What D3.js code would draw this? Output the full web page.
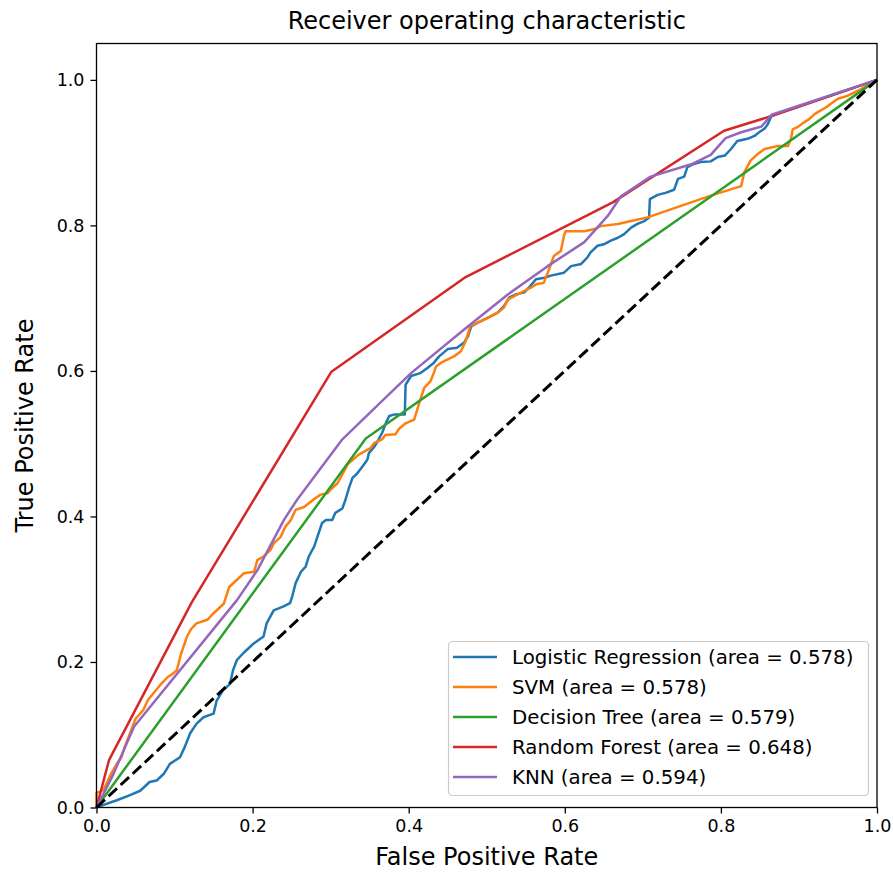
<!DOCTYPE html>
<html>
<head>
<meta charset="utf-8">
<script src="https://cdn.jsdelivr.net/npm/d3@7"></script>
<style>
  body { margin: 0; background: #fff; }
  svg { display: block; }
  text { font-family: "DejaVu Sans", sans-serif; fill: #000; }
</style>
</head>
<body>
<svg id="chart" width="893" height="872"></svg>
<script>
// ROC curves, one [false positive rate, true positive rate] list per model
const rocLogistic = [
  [0,0],[0.010,0.004],[0.026,0.010],[0.043,0.017],[0.056,0.023],[0.068,0.035],[0.077,0.037],
  [0.086,0.046],[0.094,0.060],[0.107,0.069],[0.113,0.083],[0.120,0.102],[0.128,0.115],[0.137,0.124],
  [0.150,0.129],[0.154,0.147],[0.162,0.161],[0.171,0.170],[0.175,0.189],[0.180,0.203],[0.188,0.212],
  [0.201,0.225],[0.214,0.235],[0.218,0.253],[0.227,0.271],[0.239,0.276],[0.248,0.281],[0.251,0.291],
  [0.255,0.308],[0.262,0.324],[0.268,0.331],[0.272,0.345],[0.279,0.359],[0.283,0.372],[0.289,0.391],
  [0.294,0.395],[0.302,0.395],[0.306,0.405],[0.315,0.411],[0.319,0.423],[0.324,0.441],[0.328,0.453],
  [0.334,0.459],[0.341,0.469],[0.347,0.478],[0.349,0.487],[0.356,0.496],[0.360,0.503],[0.366,0.515],
  [0.371,0.529],[0.375,0.538],[0.381,0.540],[0.395,0.540],[0.396,0.581],[0.403,0.593],[0.415,0.597],
  [0.424,0.604],[0.432,0.611],[0.439,0.620],[0.450,0.630],[0.462,0.632],[0.471,0.639],[0.476,0.648],
  [0.480,0.661],[0.488,0.666],[0.497,0.671],[0.505,0.675],[0.514,0.680],[0.522,0.689],[0.529,0.701],
  [0.537,0.705],[0.548,0.708],[0.556,0.717],[0.563,0.726],[0.574,0.728],[0.582,0.731],[0.599,0.735],
  [0.608,0.744],[0.621,0.747],[0.629,0.756],[0.633,0.763],[0.642,0.772],[0.650,0.774],[0.659,0.779],
  [0.668,0.783],[0.676,0.788],[0.685,0.797],[0.693,0.802],[0.702,0.806],[0.708,0.811],[0.709,0.836],
  [0.719,0.842],[0.730,0.845],[0.740,0.849],[0.745,0.864],[0.753,0.867],[0.757,0.880],[0.764,0.884],
  [0.774,0.887],[0.787,0.888],[0.796,0.894],[0.805,0.896],[0.813,0.905],[0.821,0.916],[0.834,0.919],
  [0.843,0.923],[0.849,0.928],[0.856,0.933],[0.860,0.939],[0.865,0.951],[1,1]
];
const rocSvm = [
  [0,0],[0,0.020],[0.009,0.024],[0.018,0.045],[0.026,0.060],[0.032,0.069],[0.036,0.083],[0.044,0.105],
  [0.050,0.122],[0.060,0.134],[0.066,0.148],[0.073,0.157],[0.083,0.170],[0.091,0.179],[0.098,0.184],
  [0.103,0.189],[0.108,0.210],[0.116,0.235],[0.121,0.245],[0.128,0.253],[0.142,0.258],[0.150,0.267],
  [0.163,0.280],[0.170,0.303],[0.180,0.313],[0.189,0.322],[0.202,0.324],[0.206,0.340],[0.214,0.345],
  [0.223,0.354],[0.227,0.363],[0.236,0.372],[0.242,0.386],[0.249,0.395],[0.255,0.409],[0.266,0.413],
  [0.279,0.424],[0.287,0.430],[0.296,0.432],[0.300,0.437],[0.309,0.446],[0.317,0.462],[0.322,0.472],
  [0.336,0.485],[0.351,0.494],[0.356,0.501],[0.366,0.506],[0.370,0.512],[0.383,0.513],[0.388,0.521],
  [0.396,0.528],[0.407,0.533],[0.411,0.547],[0.415,0.561],[0.420,0.577],[0.428,0.586],[0.432,0.597],
  [0.435,0.606],[0.441,0.611],[0.450,0.616],[0.458,0.620],[0.467,0.627],[0.473,0.641],[0.479,0.662],
  [0.488,0.666],[0.501,0.673],[0.514,0.680],[0.522,0.687],[0.527,0.698],[0.539,0.705],[0.548,0.710],
  [0.556,0.714],[0.563,0.719],[0.573,0.721],[0.580,0.740],[0.586,0.758],[0.595,0.765],[0.599,0.786],
  [0.601,0.792],[0.625,0.792],[0.638,0.795],[0.646,0.799],[0.668,0.802],[0.685,0.806],[0.706,0.811],
  [0.787,0.841],[0.826,0.854],[0.830,0.873],[0.838,0.889],[0.847,0.898],[0.856,0.905],[0.873,0.909],
  [0.886,0.909],[0.890,0.920],[0.892,0.932],[0.898,0.935],[0.907,0.942],[0.913,0.946],[0.920,0.953],
  [0.928,0.958],[0.937,0.964],[0.943,0.969],[0.950,0.974],[0.962,0.978],[0.979,0.987],[1,1]
];
const rocDecisionTree = [[0,0],[0.345,0.507],[1,1]];
const rocRandomForest = [
  [0,0],[0.016,0.065],[0.122,0.282],[0.301,0.599],[0.473,0.729],[0.662,0.832],[0.804,0.930],[0.864,0.950],[1,1]
];
const rocKnn = [
  [0,0],[0.020,0.042],[0.048,0.111],[0.180,0.285],[0.206,0.326],[0.240,0.395],[0.257,0.423],
  [0.315,0.506],[0.368,0.561],[0.403,0.597],[0.471,0.657],[0.527,0.705],[0.578,0.744],[0.625,0.777],
  [0.655,0.813],[0.672,0.840],[0.710,0.867],[0.762,0.884],[0.787,0.897],[0.806,0.920],[0.826,0.928],
  [0.852,0.936],[0.865,0.952],[1,1]
];
const chanceLine = [[0,0],[1,1]];

const modelNames = ["Logistic Regression", "SVM", "Decision Tree", "Random Forest", "KNN"];
const aucValues = ["0.578", "0.578", "0.579", "0.648", "0.594"];
const modelColors = ["#1f77b4", "#ff7f0e", "#2ca02c", "#d62728", "#9467bd"];
const modelCurves = [rocLogistic, rocSvm, rocDecisionTree, rocRandomForest, rocKnn];

const xTickValues = [0.0, 0.2, 0.4, 0.6, 0.8, 1.0];
const yTickValues = [0.0, 0.2, 0.4, 0.6, 0.8, 1.0];
const titleText = "Receiver operating characteristic";
const xLabelText = "False Positive Rate";
const yLabelText = "True Positive Rate";

// Layout
const plot = { left: 96.5, right: 877, top: 43.5, bottom: 807.5 };
const svg = d3.select("#chart");

const x = d3.scaleLinear().domain([0, 1]).range([plot.left, plot.right]);
const y = d3.scaleLinear().domain([0, 1.05]).range([plot.bottom, plot.top]);

const line = d3.line().x(d => x(d[0])).y(d => y(d[1]));

// Curves
const curves = svg.append("g").attr("class", "curves");
modelCurves.forEach((pts, i) => {
  curves.append("path")
    .datum(pts)
    .attr("d", line)
    .attr("fill", "none")
    .attr("stroke", modelColors[i])
    .attr("stroke-width", 2.5)
    .attr("stroke-linejoin", "round")
    .attr("stroke-linecap", "butt");
});
curves.append("path")
  .datum(chanceLine)
  .attr("d", line)
  .attr("fill", "none")
  .attr("stroke", "#000")
  .attr("stroke-width", 3)
  .attr("stroke-dasharray", "11.5,5");

// Axes
const xAxis = d3.axisBottom(x).tickValues(xTickValues).tickFormat(d3.format(".1f")).tickSize(6).tickPadding(6);
const yAxis = d3.axisLeft(y).tickValues(yTickValues).tickFormat(d3.format(".1f")).tickSize(6).tickPadding(6);

const gx = svg.append("g").attr("transform", `translate(0,${plot.bottom})`).call(xAxis);
const gy = svg.append("g").attr("transform", `translate(${plot.left},0)`).call(yAxis);
[gx, gy].forEach(g => {
  g.select(".domain").remove();
  g.selectAll(".tick line").attr("stroke", "#000").attr("stroke-width", 1.3);
  g.selectAll(".tick text").style("font-family", "'DejaVu Sans', sans-serif").style("font-size", "17.5px").attr("fill", "#000");
});

// Frame
svg.append("rect")
  .attr("x", plot.left).attr("y", plot.top)
  .attr("width", plot.right - plot.left).attr("height", plot.bottom - plot.top)
  .attr("fill", "none").attr("stroke", "#000").attr("stroke-width", 1.3);

// Titles
svg.append("text")
  .attr("x", (plot.left + plot.right) / 2).attr("y", 29)
  .attr("text-anchor", "middle").style("font-size", "24px")
  .text(titleText);
svg.append("text")
  .attr("x", (plot.left + plot.right) / 2).attr("y", 865)
  .attr("text-anchor", "middle").style("font-size", "24px")
  .text(xLabelText);
svg.append("text")
  .attr("transform", `translate(33,${(plot.top + plot.bottom) / 2}) rotate(-90)`)
  .attr("text-anchor", "middle").style("font-size", "24px")
  .text(yLabelText);

// Legend
const legend = svg.append("g").attr("class", "legend");
legend.append("rect")
  .attr("x", 448.5).attr("y", 641.5).attr("width", 420).attr("height", 154)
  .attr("rx", 4).attr("ry", 4)
  .attr("fill", "#fff").attr("fill-opacity", 0.8)
  .attr("stroke", "#cccccc").attr("stroke-width", 1.2);
modelNames.forEach((name, i) => {
  const cy = 657 + i * 30;
  legend.append("line")
    .attr("x1", 453).attr("x2", 497).attr("y1", cy).attr("y2", cy)
    .attr("stroke", modelColors[i]).attr("stroke-width", 2.5);
  legend.append("text")
    .attr("x", 512).attr("y", cy + 7)
    .style("font-size", "19.8px")
    .text(`${name} (area = ${aucValues[i]})`);
});
</script>
</body>
</html>
